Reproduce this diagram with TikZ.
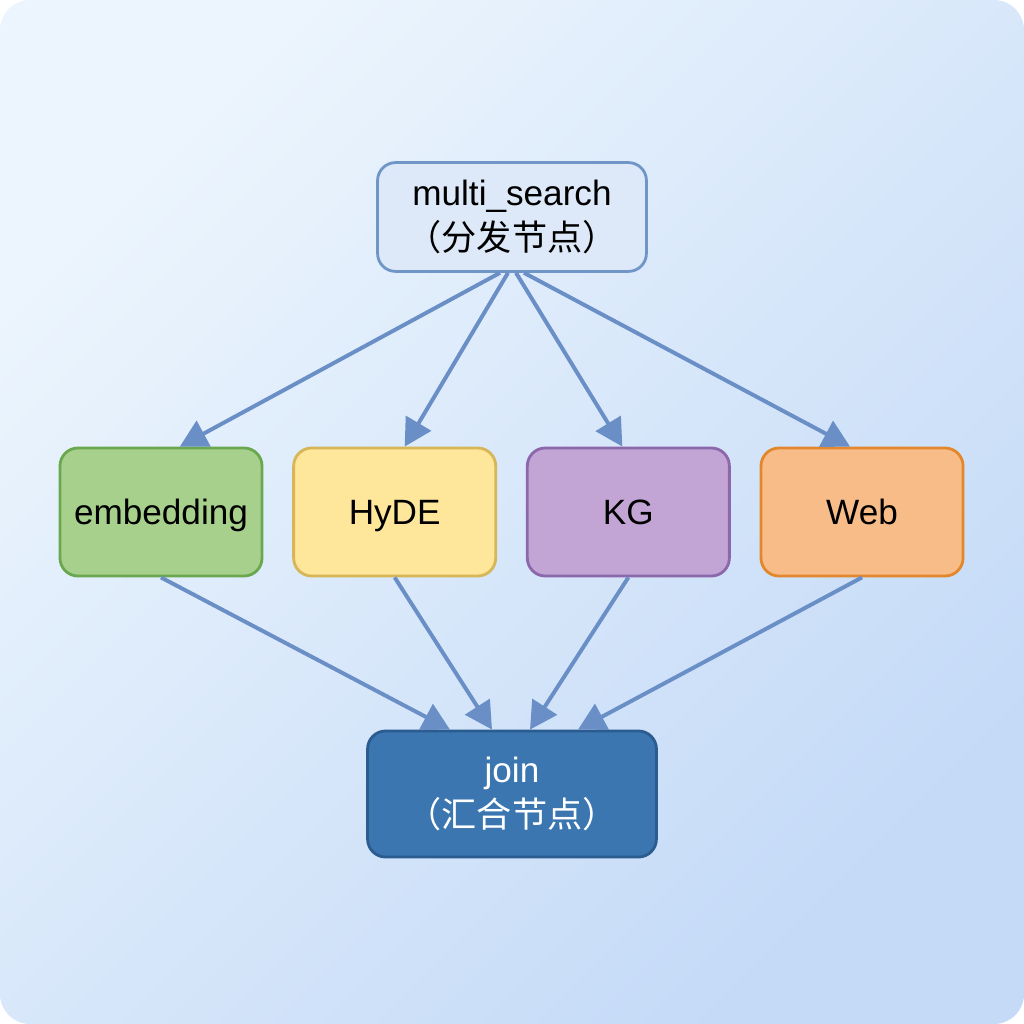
\documentclass[tikz,border=0pt]{standalone}
\usepackage{fontspec}
\setmainfont{Liberation Sans}
\newfontfamily\cjkfont{Noto Sans CJK SC}
\usepackage{xcolor}
\usetikzlibrary{
	arrows.meta,
	positioning
}

\definecolor{bgtop}{HTML}{ECF5FD}
\definecolor{bgbot}{HTML}{C4DAF7}
\definecolor{linkblue}{HTML}{6A8EC6}
\definecolor{msfill}{HTML}{DDE9F8}
\definecolor{msdraw}{HTML}{7096C8}
\definecolor{embfill}{HTML}{A8D08D}
\definecolor{embdraw}{HTML}{6AA84F}
\definecolor{hydefill}{HTML}{FEE69A}
\definecolor{hydedraw}{HTML}{D6B656}
\definecolor{kgfill}{HTML}{C2A5D5}
\definecolor{kgdraw}{HTML}{8C67AA}
\definecolor{webfill}{HTML}{F8BC88}
\definecolor{webdraw}{HTML}{E3872D}
\definecolor{joinfill}{HTML}{3B76B1}
\definecolor{joindraw}{HTML}{2A5C8F}

\begin{document}
\begin{tikzpicture}[x=0.025cm,y=-0.025cm,
		node distance=0.72cm,
		box/.style={draw,rounded corners=0.45cm,line width=2pt,
			minimum width=5.05cm,minimum height=3.2cm,
			font=\fontsize{25}{32}\selectfont},
		twoline/.style={box,align=center},
		midbox/.style={box,text height=18pt,text depth=0pt},
		link/.style={draw=linkblue,line width=2.8pt,
			-{Triangle[length=0.68cm,width=0.72cm]}}]
		\useasboundingbox (0,0) rectangle (1024,1024);
		\shade[rounded corners=0.75cm,top color=bgtop,bottom color=bgbot,shading angle=45]
			(0,0) rectangle (1024,1024);

		\node[twoline,fill=msfill,draw=msdraw,minimum width=6.72cm,minimum height=2.72cm] (multisearch) at (512,217)
			{multi\_search\\{\cjkfont （分发节点）}};

		\node[midbox,fill=embfill,draw=embdraw] (embedding) at (161,512) {embedding};
		\node[midbox,fill=hydefill,draw=hydedraw,right=of embedding] (hyde) {HyDE};
		\node[midbox,fill=kgfill,draw=kgdraw,right=of hyde] (kg) {KG};
		\node[midbox,fill=webfill,draw=webdraw,right=of kg] (web) {Web};

		\node[twoline,fill=joinfill,draw=joindraw,text=white,minimum width=7.22cm,minimum height=3.15cm] (join) at (512,794)
			{join\\{\cjkfont （汇合节点）}};

		\draw[link] ([xshift=-0.3cm]multisearch.south) -- ([xshift=0.47cm]embedding.north);
		\draw[link] ([xshift=-0.1cm]multisearch.south) -- ([xshift=0.25cm]hyde.north);
		\draw[link] ([xshift=0.1cm]multisearch.south) -- ([xshift=-0.15cm]kg.north);
		\draw[link] ([xshift=0.3cm]multisearch.south) -- ([xshift=-0.3cm]web.north);

		\draw[link] (embedding.south) -- ([xshift=-1.55cm]join.north);
		\draw[link] (hyde.south) -- ([xshift=-0.5cm]join.north);
		\draw[link] (kg.south) -- ([xshift=0.45cm]join.north);
		\draw[link] (web.south) -- ([xshift=1.65cm]join.north);
	\end{tikzpicture}
\end{document}
